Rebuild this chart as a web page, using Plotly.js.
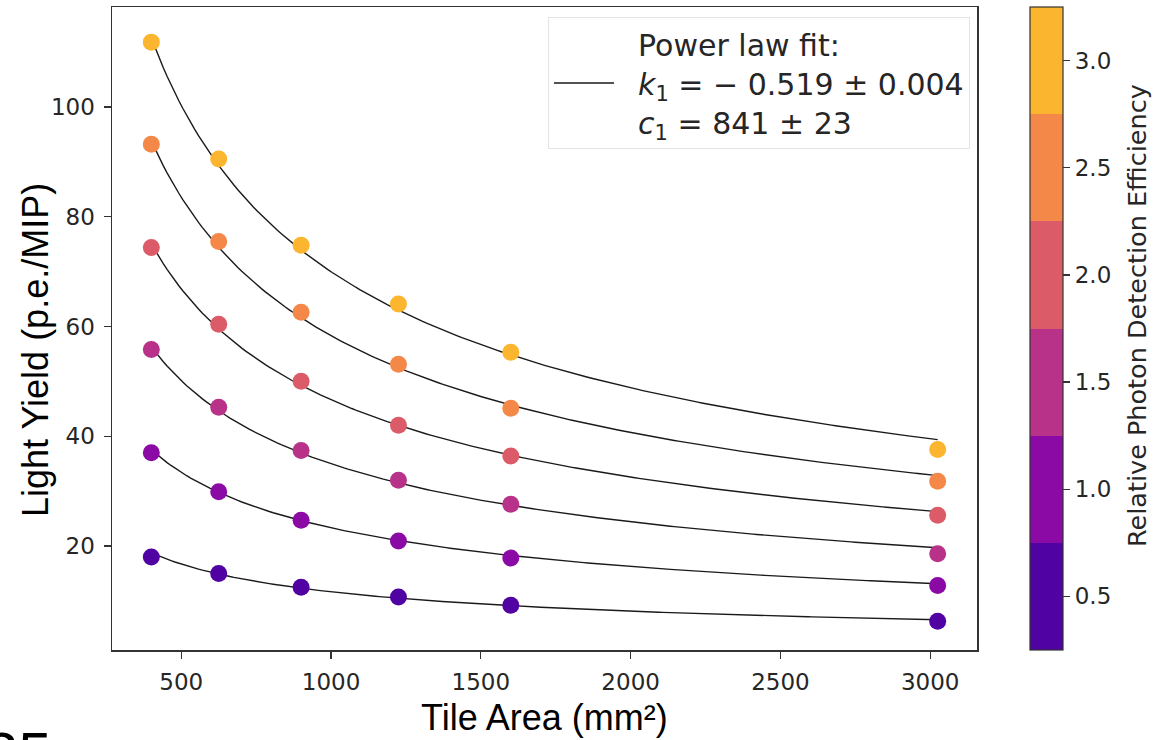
<!DOCTYPE html>
<html>
<head>
<meta charset="utf-8">
<script src="https://cdn.plot.ly/plotly-3.0.1.min.js"></script>
<style>
  html, body { margin: 0; padding: 0; background: #ffffff; }
  #chart { width: 1162px; height: 740px; }
</style>
</head>
<body>
<div id="chart"></div>
<script>
// Tile areas (mm²) of the measured scintillator tiles
const tileArea = [400, 625, 900, 1225, 1600, 3025];

// Relative photon detection efficiency of each measurement series
const pdeLevels = [0.5, 1.0, 1.5, 2.0, 2.5, 3.0];

// Measured light yield (p.e./MIP) per series, one value per tile area
const lyPde05 = [18.0, 15.0, 12.5, 10.7, 9.2, 6.3];
const lyPde10 = [37.0, 29.9, 24.7, 20.9, 17.8, 12.8];
const lyPde15 = [55.8, 45.3, 37.4, 32.0, 27.6, 18.6];
const lyPde20 = [74.4, 60.4, 50.0, 42.0, 36.4, 25.6];
const lyPde25 = [93.2, 75.5, 62.6, 53.1, 45.1, 31.8];
const lyPde30 = [111.8, 90.5, 74.8, 64.1, 55.3, 37.6];
const lightYield = [lyPde05, lyPde10, lyPde15, lyPde20, lyPde25, lyPde30];

// Power-law fit parameters: LY = PDE * c1 * A^k1
const fitK1 = -0.519;
const fitC1 = 841;

// Colorbar ticks
const cbarTicks = [0.5, 1.0, 1.5, 2.0, 2.5, 3.0];
const cbarTickText = ['0.5', '1.0', '1.5', '2.0', '2.5', '3.0'];

// Discrete plasma bins, one per efficiency level
const binColors = ['#5002a2', '#8b0aa5', '#b83289', '#db5c68', '#f48849', '#fcb52e'];
const cmin = 0.25, cmax = 3.25;
const colorscale = [];
binColors.forEach((c, i) => {
  colorscale.push([i / binColors.length, c]);
  colorscale.push([(i + 1) / binColors.length, c]);
});

const tickFont = { family: 'DejaVu Sans, sans-serif', size: 23, color: '#262626' };
const traces = [];

// Fit curves, sampled densely across the measured area range
const aMin = tileArea[0], aMax = tileArea[tileArea.length - 1];
const nFit = 200;
const fitX = [];
for (let i = 0; i <= nFit; i++) fitX.push(aMin + (aMax - aMin) * i / nFit);

const pad = '&nbsp;&nbsp;';
pdeLevels.forEach((pde, i) => {
  traces.push({
    type: 'scatter',
    mode: 'lines',
    x: fitX,
    y: fitX.map(a => pde * fitC1 * Math.pow(a, fitK1)),
    line: { color: '#1a1a1a', width: 1.4 },
    name: pad + 'Power law fit:<br>' + pad + '<i>k</i><sub>1</sub> = − 0.519 ± 0.004<br>' + pad + '<i>c</i><sub>1</sub> = 841 ± 23',
    legendgroup: 'fit',
    showlegend: i === 0,
    hoverinfo: 'skip'
  });
});

// Measured points coloured by efficiency
pdeLevels.forEach((pde, i) => {
  traces.push({
    type: 'scatter',
    mode: 'markers',
    x: tileArea,
    y: lightYield[i],
    marker: {
      size: 17,
      color: tileArea.map(() => pde),
      coloraxis: 'coloraxis',
      line: { width: 0 }
    },
    showlegend: false
  });
});

const L = 112, R = 185, T = 7, B = 90;
const W = 1162, H = 740;
const plotH = H - T - B;
const plotW = W - L - R;
const px = x => (x - L) / plotW;
const py = y => (plotH - (y - T)) / plotH;

const layout = {
  width: W,
  height: H,
  margin: { l: L, r: R, t: T, b: B, autoexpand: false },
  paper_bgcolor: '#ffffff',
  plot_bgcolor: '#ffffff',
  showlegend: true,
  xaxis: {
    range: [268.75, 3156.25],
    tickvals: [500, 1000, 1500, 2000, 2500, 3000],
    ticks: 'outside',
    ticklen: 7,
    tickwidth: 1.3,
    tickcolor: '#333333',
    showline: true,
    mirror: true,
    linecolor: '#333333',
    linewidth: 1.5,
    showgrid: false,
    zeroline: false,
    tickfont: tickFont,
    ticklabelstandoff: 4
  },
  yaxis: {
    range: [1.06, 118.2],
    tickvals: [20, 40, 60, 80, 100],
    ticks: 'outside',
    ticklen: 7,
    tickwidth: 1.3,
    tickcolor: '#333333',
    showline: true,
    mirror: true,
    linecolor: '#333333',
    linewidth: 1.5,
    showgrid: false,
    zeroline: false,
    tickfont: tickFont,
    ticklabelstandoff: 4
  },
  coloraxis: {
    cmin: cmin,
    cmax: cmax,
    colorscale: colorscale,
    colorbar: {
      x: px(1030),
      xanchor: 'left',
      y: 0,
      yanchor: 'bottom',
      len: 1,
      lenmode: 'fraction',
      thickness: 33,
      thicknessmode: 'pixels',
      xpad: 0,
      ypad: 0,
      outlinewidth: 1.2,
      outlinecolor: '#333333',
      ticks: 'outside',
      ticklen: 7,
      tickwidth: 1.3,
      tickcolor: '#333333',
      tickvals: cbarTicks,
      ticktext: cbarTickText,
      tickfont: tickFont
    }
  },
  legend: {
    x: px(548),
    y: py(17),
    xanchor: 'left',
    yanchor: 'top',
    bgcolor: 'rgba(255,255,255,0.9)',
    bordercolor: '#e4e4e4',
    borderwidth: 1,
    itemwidth: 60,
    font: { family: 'DejaVu Sans, sans-serif', size: 30, color: '#262626' }
  },
  annotations: [
    {
      text: 'Tile Area (mm²)',
      xref: 'paper', yref: 'paper',
      x: 0.5, y: py(718),
      xanchor: 'center', yanchor: 'middle',
      showarrow: false,
      font: { family: 'Liberation Sans, Arial, sans-serif', size: 36, color: '#000000' }
    },
    {
      text: 'Light Yield (p.e./MIP)',
      xref: 'paper', yref: 'paper',
      x: px(35), y: py(350),
      xanchor: 'center', yanchor: 'middle',
      textangle: -90,
      showarrow: false,
      font: { family: 'Liberation Sans, Arial, sans-serif', size: 36, color: '#000000' }
    },
    {
      text: 'Relative Photon Detection Efficiency',
      xref: 'paper', yref: 'paper',
      x: px(1137), y: py(316),
      xanchor: 'center', yanchor: 'middle',
      textangle: -90,
      showarrow: false,
      font: { family: 'DejaVu Sans, sans-serif', size: 25.5, color: '#262626' }
    },
    {
      text: '25',
      xref: 'paper', yref: 'paper',
      x: px(-17), y: py(718),
      xanchor: 'left', yanchor: 'top',
      showarrow: false,
      font: { family: 'Liberation Sans, Arial, sans-serif', size: 60, color: '#000000' }
    }
  ]
};

Plotly.newPlot('chart', traces, layout, { displayModeBar: false, staticPlot: true });
</script>
</body>
</html>
